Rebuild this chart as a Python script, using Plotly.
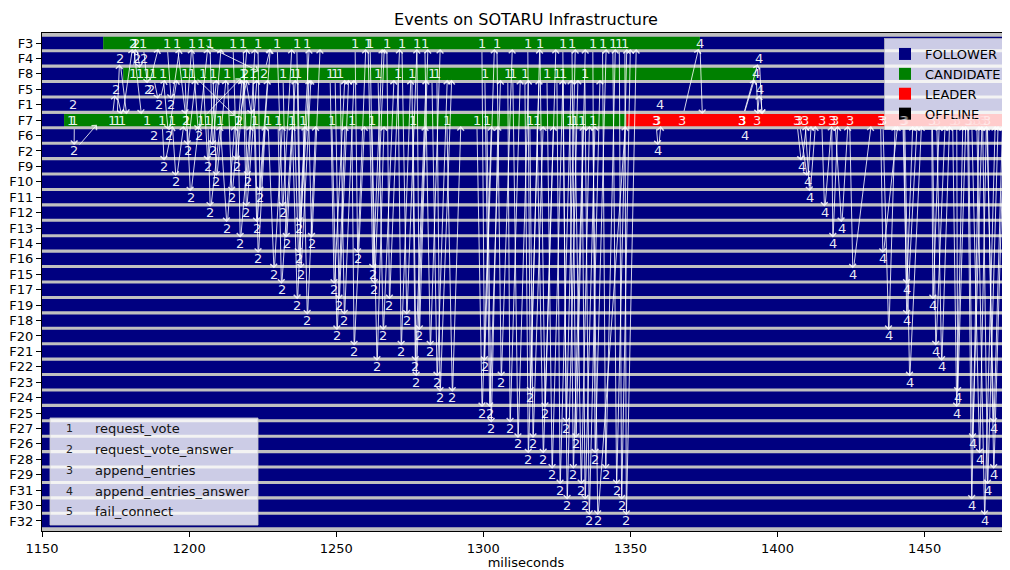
import plotly.graph_objects as go

# ---------------- rows (top to bottom) ----------------
ROWS = ["F3", "F4", "F8", "F5", "F1", "F7", "F6", "F2", "F9", "F10", "F11", "F12",
        "F13", "F14", "F16", "F15", "F17", "F19", "F18", "F20", "F21", "F22", "F23",
        "F24", "F25", "F27", "F26", "F28", "F29", "F31", "F30", "F32"]

T_FIRST, T_LAST = 1150, 1480

# ---------------- state segments of the nodes that changed state ----------------
seg_node = ["F3", "F3", "F3", "F8", "F8", "F8", "F7", "F7", "F7"]
seg_state = ["FOLLOWER", "CANDIDATE", "FOLLOWER",
             "FOLLOWER", "CANDIDATE", "FOLLOWER",
             "FOLLOWER", "CANDIDATE", "LEADER"]
seg_start = [1150, 1170.8, 1373.6, 1150, 1177.6, 1392.7, 1150, 1157.5, 1348.6]
seg_end = [1170.8, 1373.6, 1480, 1177.6, 1392.7, 1480, 1157.5, 1348.6, 1480]

STATES = ["FOLLOWER", "CANDIDATE", "LEADER", "OFFLINE"]
STATE_COLORS = ["#000080", "#008000", "#ff0000", "#000000"]

# ---------------- message types ----------------
msg_type_ids = ["1", "2", "3", "4", "5"]
msg_type_names = ["request_vote", "request_vote_answer", "append_entries",
                  "append_entries_answer", "fail_connect"]

# ---------------- election: candidate F7 ----------------
f7_vote_dst = ["F1", "F2", "F5", "F4", "F3", "F8", "F6", "F9", "F10", "F11", "F12", "F13",
               "F14", "F16", "F15", "F17", "F19", "F18", "F20", "F21", "F22", "F23", "F24",
               "F25", "F27", "F26", "F28", "F29", "F31", "F30", "F32"]
f7_vote_sent = [1160.0, 1161.0, 1173.8, 1175.5, 1177.2, 1204.0, 1185.7, 1190.8, 1194.2, 1199.3,
                1206.4, 1210.5, 1216.6, 1222.4, 1226.8, 1230.2, 1235.0, 1238.7, 1248.5, 1255.3,
                1262.1, 1276.1, 1287.6, 1297.8, 1301.2, 1315.8, 1318.2, 1329.4, 1331.1, 1333.5,
                1337.2]
f7_vote_recv = [1160.6, 1160.9, 1175.0, 1176.4, 1181.0, 1219.0, 1187.9, 1191.6, 1195.6, 1200.5,
                1207.2, 1212.9, 1217.4, 1223.5, 1228.9, 1231.4, 1236.8, 1240.2, 1250.3, 1256.1,
                1263.9, 1277.2, 1289.5, 1299.6, 1302.7, 1316.9, 1320.4, 1330.6, 1333.3, 1334.6,
                1338.9]
f7_answer_recv = [1161.2, 1170.0, 1177.5, 1179.0, 1184.0, 1221.5, 1190.5, 1194.8, 1198.4, 1203.5,
                  1210.8, 1215.6, 1220.9, 1226.0, 1231.8, 1235.2, 1239.5, 1243.1, 1253.1, 1259.7,
                  1266.3, 1280.3, 1292.4, 1302.8, 1305.0, 1320.4, 1323.9, 1334.0, 1336.1, 1338.0,
                  1348.4]

# ---------------- election: candidate F3 ----------------
f3_vote_dst = ["F4", "F8", "F5", "F1", "F7", "F6", "F2", "F9", "F10", "F11", "F12", "F13",
               "F14", "F16", "F15", "F17", "F19", "F18", "F20", "F21", "F22", "F23", "F24",
               "F25", "F27", "F26", "F28", "F29", "F31", "F30", "F32"]
f3_vote_sent = [1181.6, 1204.0, 1184.3, 1192.5, 1195.9, 1201.0, 1207.1, 1214.9, 1218.3, 1223.4,
                1229.9, 1236.6, 1240.0, 1256.4, 1260.8, 1261.5, 1267.2, 1272.3, 1277.4, 1280.1,
                1299.5, 1304.6, 1315.1, 1319.2, 1327.0, 1330.1, 1337.2, 1340.5, 1344.0, 1346.2,
                1348.1]
f3_vote_recv = [1182.3, 1225.5, 1186.0, 1194.0, 1199.0, 1203.2, 1208.0, 1216.2, 1219.9, 1224.1,
                1231.8, 1237.5, 1241.7, 1257.3, 1262.5, 1263.0, 1268.1, 1274.0, 1278.3, 1282.0,
                1300.4, 1306.1, 1316.0, 1321.0, 1328.2, 1331.5, 1338.0, 1341.6, 1345.3, 1347.0,
                1348.6]
f3_answer_recv = [1184.0, 1228.0, 1190.0, 1197.0, 1201.0, 1206.5, 1211.0, 1219.8, 1222.5, 1227.7,
                  1235.0, 1240.9, 1244.6, 1260.1, 1265.7, 1266.4, 1271.6, 1277.5, 1281.2, 1285.4,
                  1303.8, 1309.9, 1319.2, 1324.7, 1331.3, 1334.7, 1341.8, 1344.9, 1348.8, 1350.0,
                  1352.0]

# ---------------- election: candidate F8 ----------------
f8_vote_dst = ["F3", "F4", "F5", "F1", "F7", "F6", "F2", "F9", "F10", "F11", "F12", "F13",
               "F14", "F16", "F15", "F17", "F19", "F18", "F20", "F21", "F22", "F23", "F24",
               "F25", "F27", "F26", "F28", "F29", "F31", "F30", "F32"]
f8_vote_sent = [1180.9, 1183.3, 1185.7, 1187.7, 1201.0, 1191.1, 1198.6, 1204.7, 1208.1, 1213.0,
                1218.3, 1221.7, 1231.9, 1235.3, 1237.0, 1247.9, 1249.6, 1251.3, 1264.2, 1271.0,
                1275.7, 1282.5, 1284.2, 1300.5, 1308.3, 1310.0, 1314.1, 1321.6, 1325.0, 1327.0,
                1334.5]
f8_vote_recv = [1182.0, 1184.5, 1186.9, 1189.8, 1217.0, 1193.0, 1199.5, 1206.4, 1209.3, 1214.6,
                1219.5, 1223.0, 1233.1, 1237.2, 1238.0, 1249.3, 1251.0, 1252.8, 1266.0, 1272.1,
                1276.9, 1284.3, 1285.3, 1302.2, 1309.1, 1311.8, 1315.3, 1323.4, 1326.1, 1328.5,
                1336.0]
f8_answer_recv = [1183.5, 1186.0, 1188.6, 1192.2, 1220.0, 1196.1, 1202.4, 1209.5, 1212.7, 1218.1,
                  1223.2, 1226.8, 1236.2, 1240.9, 1241.5, 1253.0, 1254.3, 1256.1, 1269.7, 1275.4,
                  1280.6, 1287.8, 1289.3, 1305.9, 1312.6, 1315.4, 1319.0, 1327.1, 1329.9, 1332.2,
                  1339.7]

# ---------------- leader F7: append_entries ----------------
ae_dst = ["F1", "F2", "F6", "F3", "F5", "F4", "F8", "F9", "F10", "F11", "F12", "F14", "F13",
          "F15", "F16", "F20", "F17", "F18", "F23", "F19", "F21", "F22", "F25", "F24", "F30",
          "F26", "F28", "F32", "F31", "F27", "F29"]
ae_sent = [1359.0, 1358.6, 1387.9, 1367.5, 1393.0, 1387.9, 1388.0, 1406.5, 1407.3, 1409.3,
           1415.0, 1418.4, 1419.5, 1424.5, 1435.0, 1435.8, 1442.6, 1442.9, 1443.2, 1452.4,
           1452.6, 1454.1, 1459.5, 1460.9, 1464.6, 1464.9, 1466.0, 1467.7, 1469.7, 1471.1,
           1471.3]
ae_recv = [1360.0, 1359.5, 1388.9, 1373.6, 1394.0, 1393.8, 1392.7, 1408.2, 1410.3, 1411.0,
           1416.0, 1418.8, 1421.8, 1425.6, 1435.8, 1437.8, 1443.9, 1443.9, 1444.9, 1452.8,
           1453.8, 1455.8, 1460.9, 1461.2, 1466.0, 1466.3, 1468.7, 1470.4, 1471.4, 1473.5,
           1473.5]
ae_answer_recv = [1361.0, 1360.5, 1390.0, 1374.5, 1395.0, 1394.8, 1393.4, 1410.0, 1411.5, 1413.0,
                  1418.5, 1420.5, 1424.0, 1432.0, 1441.0, 1440.0, 1446.0, 1447.5, 1449.0, 1455.0,
                  1457.0, 1458.5, 1463.0, 1464.0, 1468.5, 1469.5, 1471.0, 1474.0, 1475.0, 1476.5,
                  1477.0]

# ---------------- build figure ----------------
row_idx = {n: i for i, n in enumerate(ROWS)}

all_node = list(seg_node)
all_state = list(seg_state)
all_start = list(seg_start)
all_end = list(seg_end)
for n in ROWS:
    if n not in seg_node:
        all_node.append(n)
        all_state.append("FOLLOWER")
        all_start.append(T_FIRST)
        all_end.append(T_LAST)

fig = go.Figure()
for st, col in zip(STATES, STATE_COLORS):
    ys = [row_idx[n] for n, s in zip(all_node, all_state) if s == st]
    bs = [a for a, s in zip(all_start, all_state) if s == st]
    ln = [b - a for a, b, s in zip(all_start, all_end, all_state) if s == st]
    if not ys:
        ys, bs, ln = [None], [None], [None]
    fig.add_trace(go.Bar(
        y=ys, x=ln, base=bs, orientation="h", width=0.8, name=st,
        marker=dict(color=col, line=dict(width=0)), hoverinfo="skip",
        showlegend=True))

ARROW_COL = "rgba(255,255,255,0.82)"
TEXT_COL = "rgba(255,255,255,0.92)"
FADED_COL = "rgba(255,255,255,0.35)"

# region hidden behind the (semi-transparent) state legend, in data units
LEG_T_MIN, LEG_ROW_MAX = 1437, 5.4


def msg(label, src, dst, t0, t1):
    under_legend = t0 >= LEG_T_MIN and row_idx[src] <= LEG_ROW_MAX
    return dict(x=t1, y=row_idx[dst], ax=t0, ay=row_idx[src],
                xref="x", yref="y", axref="x", ayref="y",
                text=label, showarrow=True, arrowhead=4, arrowsize=1.3,
                arrowwidth=1.0, arrowcolor=ARROW_COL, standoff=6,
                font=dict(color=FADED_COL if under_legend else TEXT_COL,
                          size=13, family="DejaVu Sans"))


annotations = []
for cand, dsts, sent, recv, arecv in [
        ("F7", f7_vote_dst, f7_vote_sent, f7_vote_recv, f7_answer_recv),
        ("F3", f3_vote_dst, f3_vote_sent, f3_vote_recv, f3_answer_recv),
        ("F8", f8_vote_dst, f8_vote_sent, f8_vote_recv, f8_answer_recv)]:
    for d, s, r, a in zip(dsts, sent, recv, arecv):
        annotations.append(msg(msg_type_ids[0], cand, d, s, r))
        annotations.append(msg(msg_type_ids[1], d, cand, r, a))

for d, s, r, a in zip(ae_dst, ae_sent, ae_recv, ae_answer_recv):
    annotations.append(msg(msg_type_ids[2], "F7", d, s, r))
    annotations.append(msg(msg_type_ids[3], d, "F7", r, a))

# message-type legend (bottom left); figure is 1002x562 inside the page's 8px body margin
PL, PT, PW, PH = 34, 25, 968, 498   # plot area in figure pixels


def px(x):
    return (x - 8 - PL) / PW


def py(y):
    return 1 - (y - 8 - PT) / PH


leg_rows_px = [428, 449, 470, 491, 511]
for tid, name, yy in zip(msg_type_ids, msg_type_names, leg_rows_px):
    annotations.append(dict(xref="paper", yref="paper", x=px(69), y=py(yy), text=tid,
                            showarrow=False, xanchor="center", yanchor="middle",
                            font=dict(size=11, color="#222", family="DejaVu Sans")))
    annotations.append(dict(xref="paper", yref="paper", x=px(93), y=py(yy), text=name,
                            showarrow=False, xanchor="left", yanchor="middle",
                            font=dict(size=13, color="#111", family="DejaVu Sans")))

shapes = [dict(type="rect", xref="paper", yref="paper", x0=px(50), x1=px(258),
               y0=py(525), y1=py(418), fillcolor="rgba(255,255,255,0.8)",
               line=dict(color="rgba(204,204,204,0.8)", width=1), layer="above")]

fig.update_layout(
    width=1002, height=562,
    margin=dict(l=PL, r=0, t=PT, b=562 - PT - PH),
    paper_bgcolor="white", plot_bgcolor="#c0c0c0",
    barmode="overlay",
    font=dict(family="DejaVu Sans", size=13, color="black"),
    title=dict(text="Events on SOTARU Infrastructure", x=px(526), xref="paper",
               xanchor="center", y=1 - 11 / 562, yanchor="middle",
               font=dict(size=16, color="black")),
    xaxis=dict(range=[1150, 1479], tickvals=[1150, 1200, 1250, 1300, 1350, 1400, 1450],
               ticks="outside", ticklen=5, tickcolor="black", showgrid=False,
               zeroline=False, showline=True, linecolor="black", mirror=True,
               title=dict(text="miliseconds", standoff=4, font=dict(size=13)),
               tickfont=dict(size=13)),
    yaxis=dict(range=[31.65, -0.65], tickvals=list(range(len(ROWS))), ticktext=ROWS,
               ticks="outside", ticklen=5, tickcolor="black", showgrid=False,
               zeroline=False, showline=True, linecolor="black", mirror=True,
               tickfont=dict(size=13)),
    legend=dict(x=px(1007), y=py(38), xanchor="right", yanchor="top",
                bgcolor="rgba(255,255,255,0.8)", bordercolor="rgba(204,204,204,0.8)",
                borderwidth=1, font=dict(size=13), itemsizing="constant",
                tracegroupgap=0),
    annotations=annotations,
    shapes=shapes,
    showlegend=True,
)

fig.write_html("out.html")
